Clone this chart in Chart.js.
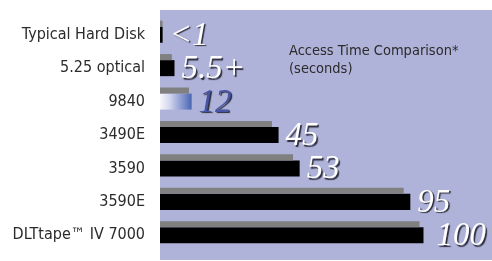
<!DOCTYPE html>
<html>
<head>
<meta charset="utf-8">
<script src="https://cdn.jsdelivr.net/npm/chart.js@4.4.1/dist/chart.umd.min.js"></script>
<style>
  html, body { margin: 0; padding: 0; background: #fff; }
  #wrap { width: 492px; height: 261px; }
</style>
</head>
<body>
<div id="wrap"><canvas id="chart"></canvas></div>
<script>
const categories = ["Typical Hard Disk", "5.25 optical", "9840", "3490E", "3590", "3590E", "DLTtape\u2122 IV 7000"];
const accessTimes = [1, 5.5, 12, 45, 53, 95, 100];          // black bars (seconds)
const shadowTimes = [1, 4.5, 11, 42.5, 50.5, 92.5, 98.5];   // gray bars above them
const valueLabels = ["<1", "5.5+", "12", "45", "53", "95", "100"];
const titleLines = ["Access Time Comparison*", "(seconds)"];

const narrow = '"DejaVu Sans Condensed", "Liberation Sans Narrow", sans-serif';

// lavender panel behind the bars, a bit taller than the chart area
const panelPlugin = {
    id: 'panel',
    beforeDraw(chart) {
        const { ctx, chartArea } = chart;
        ctx.save();
        ctx.fillStyle = '#b0b3d9';
        ctx.fillRect(chartArea.left, chartArea.top - 8, chartArea.right - chartArea.left, chartArea.bottom - chartArea.top + 16);
        ctx.restore();
    }
};

// title inside the panel + big italic numbers after each bar
const labelPlugin = {
    id: 'labels',
    afterDatasetsDraw(chart) {
        const { ctx, chartArea } = chart;
        ctx.save();
        ctx.fillStyle = '#2b2b2b';
        ctx.font = '14.5px ' + narrow;
        ctx.textBaseline = 'alphabetic';
        ctx.fillText(titleLines[0], chartArea.left + 129, chartArea.top + 37);
        ctx.fillText(titleLines[1], chartArea.left + 129, chartArea.top + 55);

        const meta = chart.getDatasetMeta(1);
        ctx.font = 'italic 33px "Liberation Serif", "DejaVu Serif", serif';
        meta.data.forEach((bar, i) => {
            ctx.shadowColor = 'rgba(20,20,30,0.85)';
            ctx.shadowOffsetX = 1.5;
            ctx.shadowOffsetY = 1.5;
            ctx.shadowBlur = 1;
            ctx.fillStyle = i === 2 ? '#4656a6' : '#ffffff';
            ctx.fillText(valueLabels[i], bar.x + (i === 6 ? 13 : 7), bar.y + 10);
        });
        ctx.restore();
    }
};

function blackFill(context) {
    if (context.dataIndex !== 2) return '#000000';
    const chart = context.chart;
    const x = chart.scales.x;
    if (!x) return '#4b68b4';
    const g = chart.ctx.createLinearGradient(x.getPixelForValue(0), 0, x.getPixelForValue(accessTimes[2]), 0);
    g.addColorStop(0, '#f6f7fc');
    g.addColorStop(0.3, '#d4d7ee');
    g.addColorStop(0.55, '#a3aedb');
    g.addColorStop(0.8, '#7487c6');
    g.addColorStop(1, '#4865b2');
    return g;
}

new Chart(document.getElementById('chart'), {
    type: 'bar',
    data: {
        labels: categories,
        datasets: [
            { data: shadowTimes, backgroundColor: '#808080', barPercentage: 0.55 },
            { data: accessTimes, backgroundColor: blackFill, barPercentage: 1.4545 },
            { data: categories.map(() => null), backgroundColor: 'rgba(0,0,0,0)' }
        ]
    },
    options: {
        indexAxis: 'y',
        responsive: true,
        maintainAspectRatio: false,
        animation: false,
        categoryPercentage: 0.99,
        layout: { padding: { top: 18, bottom: 9, right: 0, left: 0 } },
        plugins: {
            legend: { display: false },
            tooltip: { enabled: false }
        },
        scales: {
            x: {
                display: false,
                min: 0,
                max: 126
            },
            y: {
                grid: { display: false, drawTicks: false },
                border: { display: false },
                afterFit(scale) {
                    scale.width = 160;
                    scale.paddingTop = 0;
                    scale.paddingBottom = 0;
                },
                ticks: {
                    padding: 15,
                    color: '#2b2b2b',
                    font: { family: narrow, size: 16 }
                }
            }
        }
    },
    plugins: [panelPlugin, labelPlugin]
});
</script>
</body>
</html>
